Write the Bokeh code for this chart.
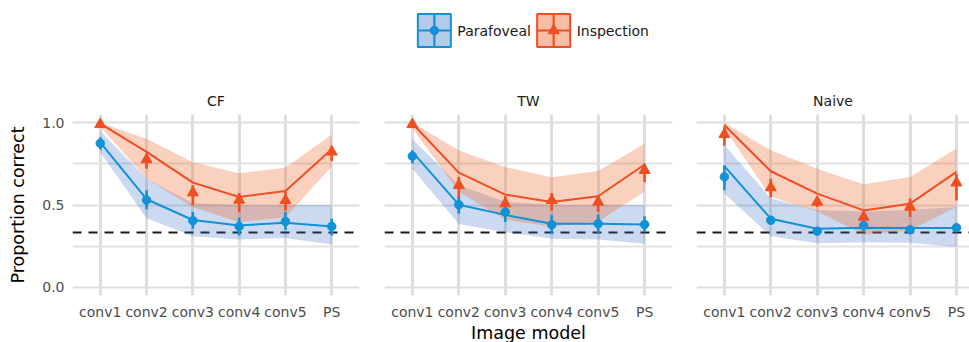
from bokeh.plotting import figure
from bokeh.models import ColumnDataSource, Range1d, FixedTicker, PrintfTickFormatter, Span, FactorRange
from bokeh.layouts import column, row
from bokeh.embed import file_html
from bokeh.resources import INLINE
from bokeh.core.properties import value

# ---------------- data ----------------
models = ["conv1", "conv2", "conv3", "conv4", "conv5", "PS"]
panels = ["CF", "TW", "Naive"]
series = ["Parafoveal", "Inspection"]
chance = 1 / 3
y_ticks = [0.0, 0.5, 1.0]
y_minor = [0.25, 0.75]

# CF
cf_para_fit = [0.880, 0.535, 0.409, 0.376, 0.392, 0.370]
cf_para_band_lo = [0.82, 0.42, 0.31, 0.29, 0.30, 0.26]
cf_para_band_hi = [0.95, 0.66, 0.51, 0.50, 0.50, 0.50]
cf_para_mean = [0.875, 0.530, 0.405, 0.370, 0.400, 0.370]
cf_para_err_lo = [0.837, 0.474, 0.356, 0.315, 0.350, 0.315]
cf_para_err_hi = [0.911, 0.589, 0.457, 0.423, 0.457, 0.417]
cf_insp_fit = [0.995, 0.823, 0.636, 0.549, 0.585, 0.839]
cf_insp_band_lo = [0.975, 0.66, 0.487, 0.395, 0.426, 0.734]
cf_insp_band_hi = [1.0, 0.903, 0.76, 0.693, 0.726, 0.929]
cf_insp_mean = [0.99, 0.776, 0.575, 0.53, 0.528, 0.823]
cf_insp_err_lo = [0.975, 0.72, 0.498, 0.457, 0.467, 0.768]
cf_insp_err_hi = [1.0, 0.813, 0.62, 0.573, 0.579, 0.858]

# TW
tw_para_fit = [0.823, 0.502, 0.440, 0.386, 0.386, 0.382]
tw_para_band_lo = [0.72, 0.385, 0.335, 0.295, 0.29, 0.264]
tw_para_band_hi = [0.90, 0.62, 0.52, 0.50, 0.50, 0.50]
tw_para_mean = [0.797, 0.502, 0.457, 0.380, 0.386, 0.382]
tw_para_err_lo = [0.752, 0.447, 0.396, 0.325, 0.329, 0.335]
tw_para_err_hi = [0.833, 0.549, 0.498, 0.437, 0.443, 0.431]
tw_insp_fit = [0.995, 0.697, 0.563, 0.518, 0.553, 0.746]
tw_insp_band_lo = [0.965, 0.58, 0.41, 0.37, 0.40, 0.58]
tw_insp_band_hi = [1.0, 0.832, 0.73, 0.669, 0.706, 0.872]
tw_insp_mean = [0.99, 0.62, 0.508, 0.528, 0.518, 0.711]
tw_insp_err_lo = [0.975, 0.545, 0.457, 0.467, 0.457, 0.64]
tw_insp_err_hi = [1.0, 0.67, 0.553, 0.573, 0.559, 0.752]

# Naive
nv_para_fit = [0.736, 0.417, 0.356, 0.362, 0.360, 0.360]
nv_para_band_lo = [0.57, 0.31, 0.268, 0.274, 0.27, 0.244]
nv_para_band_hi = [0.865, 0.54, 0.47, 0.46, 0.47, 0.488]
nv_para_mean = [0.671, 0.407, 0.341, 0.376, 0.350, 0.362]
nv_para_err_lo = [0.589, 0.390, 0.330, 0.341, 0.335, 0.342]
nv_para_err_hi = [0.742, 0.425, 0.352, 0.402, 0.365, 0.380]
nv_insp_fit = [0.986, 0.705, 0.569, 0.467, 0.508, 0.701]
nv_insp_band_lo = [0.965, 0.55, 0.46, 0.32, 0.345, 0.488]
nv_insp_band_hi = [1.0, 0.832, 0.72, 0.626, 0.67, 0.843]
nv_insp_mean = [0.929, 0.606, 0.518, 0.427, 0.488, 0.635]
nv_insp_err_lo = [0.86, 0.545, 0.488, 0.396, 0.427, 0.528]
nv_insp_err_hi = [0.975, 0.66, 0.545, 0.457, 0.539, 0.69]

# ---------------- styling ----------------
FONT = "DejaVu Sans"
BLUE = "#1192D6"
ORANGE = "#F04E23"
BLUE_FILL = "#2F6BC3"
ORANGE_FILL = "#EE6229"
GRID = "#DEDEDE"

xpos = list(range(len(models)))


def make_src(fit, lo, hi, mean, elo, ehi):
    return ColumnDataSource(dict(x=xpos, fit=fit, lo=lo, hi=hi, mean=mean, elo=elo, ehi=ehi))


def style_axis(ax):
    ax.axis_line_color = None
    ax.major_tick_line_color = None
    ax.minor_tick_line_color = None
    ax.major_tick_out = 0
    ax.major_tick_in = 0
    ax.major_label_text_font = FONT
    ax.major_label_text_font_size = "14px"
    ax.major_label_text_color = "#4D4D4D"
    ax.axis_label_text_font = FONT
    ax.axis_label_text_font_style = "normal"
    ax.axis_label_text_color = "#000000"


def make_panel(name, para, insp, left, fw, right, x_end, show_y, xlabel):
    p = figure(frame_width=fw, frame_height=181,
               x_range=Range1d(-0.6, x_end), y_range=Range1d(-0.05, 1.05),
               output_backend="svg", toolbar_location=None,
               min_border_left=left, min_border_right=right,
               min_border_top=54, min_border_bottom=5,
               title=name, y_axis_location="left" if show_y else None)
    p.outline_line_color = None
    p.title.align = "center"
    p.title.text_font = FONT
    p.title.text_font_size = "14px"
    p.title.text_font_style = "normal"
    p.title.text_color = "#1A1A1A"
    p.title.standoff = 12

    p.xgrid.ticker = FixedTicker(ticks=xpos)
    p.xgrid.grid_line_color = GRID
    p.xgrid.grid_line_width = 3
    p.ygrid.ticker = FixedTicker(ticks=y_ticks, minor_ticks=y_minor)
    p.ygrid.grid_line_color = GRID
    p.ygrid.grid_line_width = 2.2
    p.ygrid.minor_grid_line_color = "#E2E2E2"
    p.ygrid.minor_grid_line_width = 1.8

    style_axis(p.xaxis[0])
    p.xaxis.ticker = FixedTicker(ticks=xpos)
    p.xaxis.major_label_overrides = {i: m for i, m in zip(xpos, models)}
    p.xaxis.major_label_standoff = 8
    if xlabel:
        p.xaxis.axis_label = xlabel
        p.xaxis.axis_label_text_font_size = "17.5px"
        p.xaxis.axis_label_standoff = 0

    if show_y:
        style_axis(p.yaxis[0])
        p.yaxis.ticker = FixedTicker(ticks=y_ticks)
        p.yaxis.formatter = PrintfTickFormatter(format="%.1f")
        p.yaxis.major_label_standoff = 8
        p.yaxis.axis_label = "Proportion correct"
        p.yaxis.axis_label_text_font_size = "17.5px"
        p.yaxis.axis_label_standoff = 11

    p.add_layout(Span(location=chance, dimension="width", line_color="#1A1A1A",
                      line_width=2, line_dash="9 7", level="underlay"))

    sp = make_src(*para)
    si = make_src(*insp)
    p.varea(x="x", y1="lo", y2="hi", source=sp, fill_color=BLUE_FILL, fill_alpha=0.25)
    p.varea(x="x", y1="lo", y2="hi", source=si, fill_color=ORANGE_FILL, fill_alpha=0.3)
    p.line(x="x", y="fit", source=sp, line_color=BLUE, line_width=2)
    p.line(x="x", y="fit", source=si, line_color=ORANGE, line_width=2)
    p.segment(x0="x", y0="elo", x1="x", y1="ehi", source=sp, line_color=BLUE, line_width=2.6)
    p.segment(x0="x", y0="elo", x1="x", y1="ehi", source=si, line_color=ORANGE, line_width=2.6)
    p.scatter(x="x", y="mean", source=sp, marker="circle", size=8.5,
              fill_color=BLUE, line_color=BLUE, line_width=1)
    p.scatter(x="x", y="mean", source=si, marker="triangle", size=11,
              fill_color=ORANGE, line_color=ORANGE, line_width=1)
    return p


p1 = make_panel("CF",
                (cf_para_fit, cf_para_band_lo, cf_para_band_hi, cf_para_mean, cf_para_err_lo, cf_para_err_hi),
                (cf_insp_fit, cf_insp_band_lo, cf_insp_band_hi, cf_insp_mean, cf_insp_err_lo, cf_insp_err_hi),
                left=72, fw=287, right=12, x_end=5.6, show_y=True, xlabel=None)
p2 = make_panel("TW",
                (tw_para_fit, tw_para_band_lo, tw_para_band_hi, tw_para_mean, tw_para_err_lo, tw_para_err_hi),
                (tw_insp_fit, tw_insp_band_lo, tw_insp_band_hi, tw_insp_mean, tw_insp_err_lo, tw_insp_err_hi),
                left=13, fw=288, right=12, x_end=5.6, show_y=False, xlabel="Image model")
p3 = make_panel("Naive",
                (nv_para_fit, nv_para_band_lo, nv_para_band_hi, nv_para_mean, nv_para_err_lo, nv_para_err_hi),
                (nv_insp_fit, nv_insp_band_lo, nv_insp_band_hi, nv_insp_mean, nv_insp_err_lo, nv_insp_err_hi),
                left=12, fw=273, right=0, x_end=5.28, show_y=False, xlabel=None)

# ---------------- legend ----------------
leg = figure(frame_width=951, frame_height=60,
             min_border_left=18, min_border_right=0, min_border_top=0, min_border_bottom=0,
             x_range=FactorRange(factors=series, range_padding=2.986, range_padding_units="absolute"),
             y_range=Range1d(-1, 1), x_axis_location=None, y_axis_location=None,
             output_backend="svg", toolbar_location=None)
leg.grid.visible = False
leg.outline_line_color = None
lsrc = ColumnDataSource(dict(name=series, y=[0, 0], line=[BLUE, ORANGE], fill=[BLUE_FILL, ORANGE_FILL],
                             alpha=[0.36, 0.42], marker=["circle", "triangle"], size=[8.5, 11]))
leg.rect(x="name", y="y", width=33, height=33, width_units="screen", height_units="screen",
         fill_color="fill", fill_alpha="alpha", line_color="line", line_width=2, source=lsrc)
leg.scatter(x="name", y="y", marker="cross", size=33, line_color="line", line_width=2.2, source=lsrc)
leg.scatter(x="name", y="y", marker="marker", size="size", fill_color="line", line_color="line", source=lsrc)
leg.text(x="name", y="y", text="name", x_offset=23, text_baseline="middle",
         text_font=value(FONT), text_font_size="14px", text_color="#1A1A1A", source=lsrc)

layout = column(leg, row(p1, p2, p3))
open("out.html", "w").write(file_html(layout, INLINE))
